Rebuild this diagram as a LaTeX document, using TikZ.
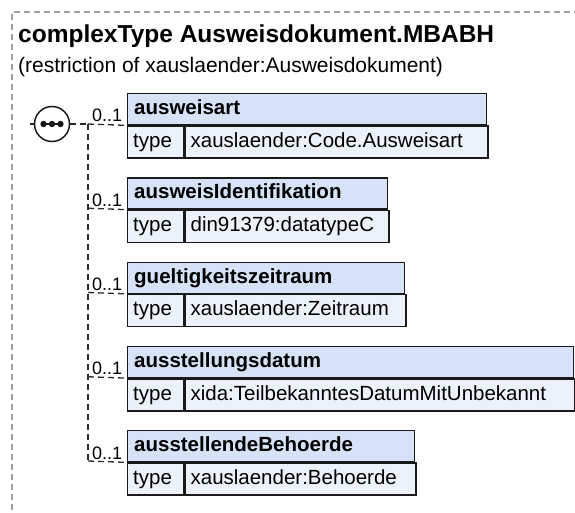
\documentclass[tikz,border=0pt]{standalone}
\usepackage{fontspec}
\setmainfont{Liberation Sans}
\definecolor{hdrfill}{HTML}{D6E2F6}
\definecolor{rowfill}{HTML}{ECF2FC}
\definecolor{bordercol}{HTML}{1A1A1A}
\definecolor{framecol}{HTML}{A0A0A0}
\definecolor{conncol}{HTML}{2A2A2A}
\tikzset{
  hdrbox/.style={draw=bordercol, line width=1.4pt, fill=hdrfill, anchor=north west,
    minimum height=31pt, inner sep=0pt, rectangle},
  rowbox/.style={draw=bordercol, line width=1.4pt, fill=rowfill, anchor=north west,
    minimum height=32pt, inner sep=0pt, rectangle},
  hname/.style={anchor=base west, inner sep=0pt, font=\bfseries\fontsize{20.5}{24}\selectfont},
  tname/.style={anchor=base west, inner sep=0pt, font=\fontsize{20.5}{24}\selectfont},
  mult/.style={anchor=base west, inner sep=0pt, font=\fontsize{18}{21}\selectfont},
  conn/.style={draw=conncol, line width=1.3pt, dash pattern=on 6pt off 4pt},
  framel/.style={draw=framecol, line width=1.3pt, dash pattern=on 6pt off 4pt},
}
\begin{document}
\begin{tikzpicture}[x=1pt,y=-1pt]
\useasboundingbox (0,0) rectangle (575,513);
% outer frame
\draw[framel] (12,530) -- (12,12) -- (590,12);
% title
\node[anchor=base west, inner sep=0pt, font=\bfseries\fontsize{24.5}{28}\selectfont] (title) at (18,43) {complexType Ausweisdokument.MBABH};
\node[anchor=base west, inner sep=0pt, font=\fontsize{21}{25}\selectfont] (subtitle) at (18,73) {(restriction of xauslaender:Ausweisdokument)};
% sequence compositor
\node[draw=bordercol, line width=1.5pt, fill=white, circle, minimum size=35pt, inner sep=0pt] (seq) at (52,124) {};
\coordinate (sl) at (30,124);
\draw[bordercol, line width=2pt] (42,124) -- (62,124);
\foreach \dx in {-8.5,0,8.5} \fill[bordercol] (52+\dx,124) circle (3.2pt);
% elements
\foreach \i/\nm/\tp/\rx in {
  1/ausweisart/xauslaender:Code.Ausweisart/486,
  2/ausweisIdentifikation/din91379:datatypeC/387,
  3/gueltigkeitszeitraum/xauslaender:Zeitraum/404,
  4/ausstellungsdatum/xida:TeilbekanntesDatumMitUnbekannt/573,
  5/ausstellendeBehoerde/xauslaender:Behoerde/414}{
  \pgfmathsetmacro\ty{93+84.25*(\i-1)}
  \pgfmathsetmacro\w{\rx-127}
  \pgfmathsetmacro\vw{\rx-183}
  \node[hdrbox, minimum width=\w pt] (h\i) at (127,\ty) {};
  \node[rowbox, minimum width=56pt] (c\i) at (h\i.south west) {};
  \node[rowbox, minimum width=\vw pt] (v\i) at (c\i.north east) {};
  \node[hname] (n\i) at ([xshift=7pt,yshift=-21.5pt]h\i.north west) {\nm};
  \node[tname] (tt\i) at ([xshift=6pt,yshift=-22pt]c\i.north west) {type};
  \node[tname] (tv\i) at ([xshift=6pt,yshift=-22pt]v\i.north west) {\tp};
  \coordinate (j\i) at (88,\ty+31);
  \node[mult] (m\i) at (92,\ty+29) {0..1};
  \draw[conn] (j\i) -- (h\i.south west);
}
\draw[conn] (sl) -- (seq.west);
\draw[conn] (seq.east) -- (j1);
\draw[conn] (j1) -- (j5);
\end{tikzpicture}
\end{document}
